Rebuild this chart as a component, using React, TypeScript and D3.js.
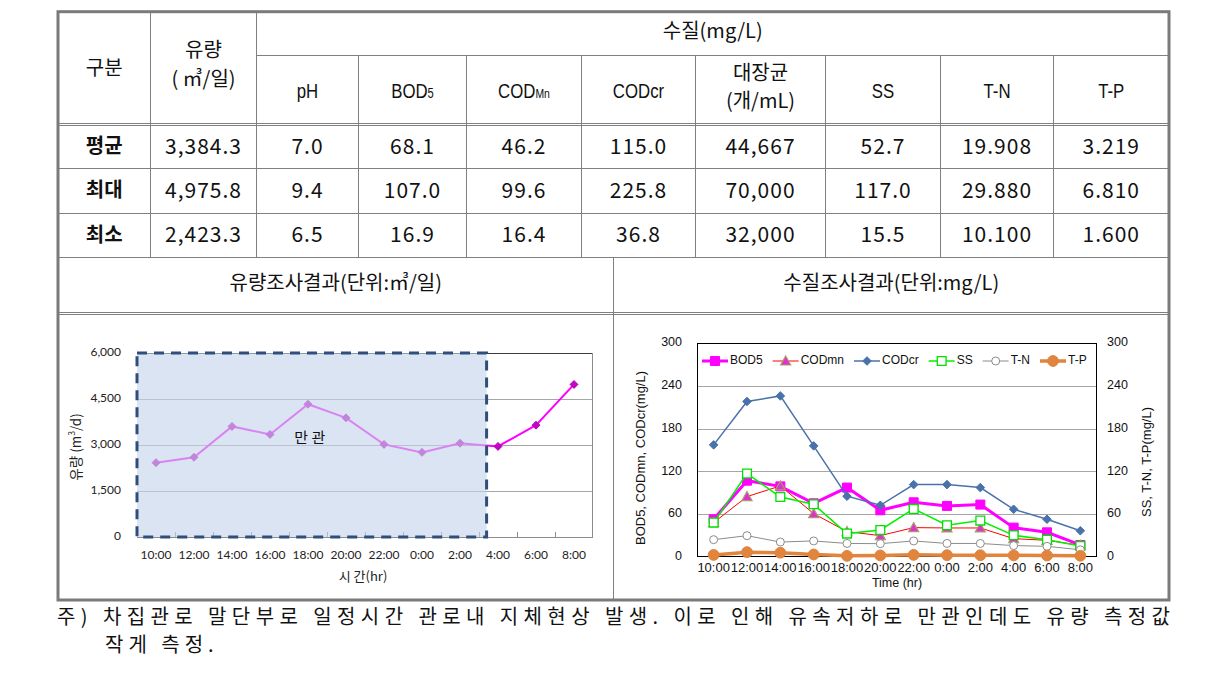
import React from 'react';
import * as d3 from 'd3';

// ---------- DATA ----------
const times = ['10:00', '12:00', '14:00', '16:00', '18:00', '20:00', '22:00', '0:00', '2:00', '4:00', '6:00', '8:00'];
const flow = [2423.3, 2600, 3605, 3345, 4330, 3885, 3020, 2760, 3060, 2955, 3648, 4975.8];
const bod5 = [52.9, 107.0, 99.0, 75.3, 97.3, 65.5, 76.7, 71.6, 73.5, 41.2, 34.6, 16.9];
const codmn = [48.2, 84.7, 99.6, 60.8, 35.6, 30.0, 41.2, 40.7, 40.7, 25.7, 23.4, 16.4];
const codcr = [157.2, 218.0, 225.8, 155.8, 85.2, 72.5, 101.5, 101.5, 97.3, 66.9, 52.9, 36.8];
const ss = [48.2, 117.0, 84.2, 73.9, 32.8, 37.9, 67.4, 44.5, 51.0, 30.4, 24.3, 15.5];
const tn = [24.3, 29.88, 21.0, 22.5, 19.0, 18.7, 22.5, 19.0, 19.0, 16.0, 15.0, 10.1];
const tp = [2.9, 6.81, 6.0, 3.5, 1.6, 2.2, 3.0, 2.6, 2.5, 2.3, 2.1, 1.7];
const flowTicks = [0, 1500, 3000, 4500, 6000];
const wqTicks = [0, 60, 120, 180, 240, 300];
const fullPipeLast = '2:00';

const rowLabels = ['평균', '최대', '최소'];
const flowStats = ['3,384.3', '4,975.8', '2,423.3'];
const phStats = ['7.0', '9.4', '6.5'];
const bodStats = ['68.1', '107.0', '16.9'];
const codmnStats = ['46.2', '99.6', '16.4'];
const codcrStats = ['115.0', '225.8', '36.8'];
const ecoliStats = ['44,667', '70,000', '32,000'];
const ssStats = ['52.7', '117.0', '15.5'];
const tnStats = ['19.908', '29.880', '10.100'];
const tpStats = ['3.219', '6.810', '1.600'];

const footLine1 = '주) 차집관로 말단부로 일정시간 관로내 지체현상 발생. 이로 인해 유속저하로 만관인데도 유량 측정값';
const footLine2 = '작게 측정.';

// ---------- STYLE / LAYOUT ----------
const KR = "'Noto Sans CJK KR', 'Noto Sans', sans-serif";
const ARIAL = "'Liberation Sans', Arial, sans-serif";
const CAL = "Lato, 'Open Sans', sans-serif";
const LINE = '#808080';

const colX = [58, 150.5, 256.5, 358.5, 466.5, 581.5, 695.5, 825.5, 940.5, 1053.5, 1169];
const rowY = { top: 11.7, h1: 55.5, h2a: 123.5, h2b: 125.5, r1: 168.5, r2: 213.5, r3: 257.5, t1: 312.5, t2: 314.5, bottom: 600 };

let _ctx: CanvasRenderingContext2D | null = null;
function measure(t: string, font: string) {
  if (!_ctx) _ctx = document.createElement('canvas').getContext('2d');
  if (!_ctx) return t.length * 7;
  _ctx.font = font;
  return _ctx.measureText(t).width;
}

type Shape = 'square' | 'triangle' | 'diamond' | 'circle';
function markerPath(shape: Shape, cx: number, cy: number, r: number) {
  if (shape === 'square') return `M${cx - r},${cy - r}h${2 * r}v${2 * r}h${-2 * r}Z`;
  if (shape === 'diamond') return `M${cx},${cy - r}L${cx + r},${cy}L${cx},${cy + r}L${cx - r},${cy}Z`;
  if (shape === 'triangle') return `M${cx},${cy - r}L${cx + r},${cy + r * 0.8}L${cx - r},${cy + r * 0.8}Z`;
  return `M${cx - r},${cy}a${r},${r} 0 1,0 ${2 * r},0a${r},${r} 0 1,0 ${-2 * r},0Z`;
}

interface Series {
  name: string; values: number[]; color: string; width: number; shape: Shape; r: number;
  fill: string; stroke: string; sw: number; secondary: boolean;
}

const series: Series[] = [
  { name: 'BOD5', values: bod5, color: '#FF00FF', width: 3, shape: 'square', r: 4.5, fill: '#FF00FF', stroke: '#FF00FF', sw: 1, secondary: false },
  { name: 'CODmn', values: codmn, color: '#FF0000', width: 1, shape: 'triangle', r: 5, fill: '#E030D0', stroke: '#A89C6A', sw: 1.2, secondary: false },
  { name: 'CODcr', values: codcr, color: '#4A72AA', width: 1.5, shape: 'diamond', r: 4.3, fill: '#4A72AA', stroke: '#4A72AA', sw: 1, secondary: false },
  { name: 'SS', values: ss, color: '#00F000', width: 1.5, shape: 'square', r: 4.4, fill: '#FFFFFF', stroke: '#00E000', sw: 1.3, secondary: true },
  { name: 'T-N', values: tn, color: '#8C8C8C', width: 1, shape: 'circle', r: 4, fill: '#FFFFFF', stroke: '#8C8C8C', sw: 1, secondary: true },
  { name: 'T-P', values: tp, color: '#E0843E', width: 3.5, shape: 'circle', r: 5.4, fill: '#E0843E', stroke: '#E0843E', sw: 1, secondary: true },
];

function FlowChart() {
  const left = 137, right = 593, top = 353, bottom = 537;
  const x = d3.scaleBand<string>().domain(times).range([left, right]);
  const y = d3.scaleLinear().domain([0, 6000]).range([bottom, top]);
  const cx = (t: string) => (x(t) as number) + x.bandwidth() / 2;
  const line = d3.line<number>().x((_, i) => cx(times[i])).y((d) => y(d));
  const boxRight = cx(fullPipeLast) + x.bandwidth() * 0.7;
  const fmt = d3.format(',');
  return (
    <g>
      {flowTicks.filter((t) => t > 0 && t < 6000).map((t) => (
        <line key={t} x1={left} x2={right} y1={Math.round(y(t)) + 0.5} y2={Math.round(y(t)) + 0.5} stroke="#A6A6A6" strokeWidth={1} />
      ))}
      <line x1={left} x2={right} y1={top + 0.5} y2={top + 0.5} stroke="#3A3A3A" strokeWidth={1} />
      <line x1={right - 0.5} x2={right - 0.5} y1={top} y2={bottom} stroke="#8C8C8C" strokeWidth={1} />
      <line x1={left} x2={right} y1={bottom + 0.5} y2={bottom + 0.5} stroke="#8C8C8C" strokeWidth={1} />
      {times.slice(1).map((t) => (
        <line key={t} x1={(x(t) as number) + 0.5} x2={(x(t) as number) + 0.5} y1={bottom - 5} y2={bottom} stroke="#8C8C8C" strokeWidth={1} />
      ))}
      <line x1={right - 0.5} x2={right - 0.5} y1={bottom - 5} y2={bottom} stroke="#8C8C8C" strokeWidth={1} />
      <path d={line(flow) || ''} fill="none" stroke="#FF00FF" strokeWidth={2} />
      {flow.map((v, i) => (
        <path key={i} d={markerPath('diamond', cx(times[i]), y(v), 4)} fill="#C800C8" stroke="#A000A0" strokeWidth={0.8} />
      ))}
      <rect x={left} y={top} width={boxRight - left} height={bottom - top} fill="rgb(196,212,236)" fillOpacity={0.62} />
      <rect x={left} y={top} width={boxRight - left} height={bottom - top} fill="none" stroke="#2F4E7C" strokeWidth={3} strokeDasharray="10 7" />
      <text x={(left + boxRight) / 2 - 2} y={y(3200)} fontFamily={KR} fontSize={15} textAnchor="middle" dominantBaseline="middle" fill="#111">만 관</text>
      {flowTicks.map((t) => (
        <text key={t} x={121} y={y(t)} fontFamily={CAL} fontSize={12} textAnchor="end" dominantBaseline="middle" fill="#222">{fmt(t)}</text>
      ))}
      {times.map((t) => (
        <text key={t} x={cx(t)} y={556} fontFamily={CAL} fontSize={12} textAnchor="middle" dominantBaseline="middle" fill="#222">{t}</text>
      ))}
      <text x={(left + right) / 2 - 2} y={577} fontFamily={KR} fontSize={13} textAnchor="middle" dominantBaseline="middle" fill="#222">시 간(hr)</text>
      <text transform={`translate(77,${(top + bottom) / 2 + 2}) rotate(-90)`} fontFamily={KR} fontSize={13.5} textAnchor="middle" dominantBaseline="middle" fill="#222">유량 (m<tspan fontSize={8.5} dy={-4}>3</tspan><tspan dy={4}>/d)</tspan></text>
    </g>
  );
}

function QualityChart() {
  const left = 697, right = 1097, top = 343, bottom = 557;
  const x = d3.scaleBand<string>().domain(times).range([left, right]);
  const y = d3.scaleLinear().domain([0, 300]).range([bottom, top]);
  const y2 = d3.scaleLinear().domain([0, 300]).range([bottom, top]);
  const cx = (t: string) => (x(t) as number) + x.bandwidth() / 2;
  const legFont = `12px ${ARIAL}`;
  let lx = 702;
  const legend = series.map((s) => {
    const item = { s, x: lx };
    lx += 29 + measure(s.name, legFont) + 9;
    return item;
  });
  return (
    <g>
      {wqTicks.filter((t) => t > 0 && t < 300).map((t) => (
        <line key={t} x1={left} x2={right} y1={Math.round(y(t)) + 0.5} y2={Math.round(y(t)) + 0.5} stroke="#A6A6A6" strokeWidth={1} />
      ))}
      <rect x={left + 0.5} y={top + 0.5} width={right - left - 1} height={bottom - top - 1} fill="none" stroke="#000" strokeWidth={1} />
      {series.map((s) => {
        const sc = s.secondary ? y2 : y;
        const ln = d3.line<number>().x((_, i) => cx(times[i])).y((d) => sc(d));
        return (
          <g key={s.name}>
            <path d={ln(s.values) || ''} fill="none" stroke={s.color} strokeWidth={s.width} />
            {s.values.map((v, i) => (
              <path key={i} d={markerPath(s.shape, cx(times[i]), sc(v), s.r)} fill={s.fill} stroke={s.stroke} strokeWidth={s.sw} />
            ))}
          </g>
        );
      })}
      {legend.map(({ s, x: lx0 }) => (
        <g key={s.name}>
          <line x1={lx0} x2={lx0 + 26} y1={361} y2={361} stroke={s.color} strokeWidth={s.width} />
          <path d={markerPath(s.shape, lx0 + 13, 361, s.r)} fill={s.fill} stroke={s.stroke} strokeWidth={s.sw} />
          <text x={lx0 + 28} y={361} fontFamily={ARIAL} fontSize={12} dominantBaseline="middle" fill="#111">{s.name}</text>
        </g>
      ))}
      {wqTicks.map((t) => (
        <g key={t}>
          <text x={682} y={y(t)} fontFamily={ARIAL} fontSize={12.5} textAnchor="end" dominantBaseline="middle" fill="#111">{t}</text>
          <text x={1107} y={y2(t)} fontFamily={ARIAL} fontSize={12.5} textAnchor="start" dominantBaseline="middle" fill="#111">{t}</text>
        </g>
      ))}
      {times.map((t) => (
        <text key={t} x={cx(t)} y={569} fontFamily={ARIAL} fontSize={13} textAnchor="middle" dominantBaseline="middle" fill="#111">{t}</text>
      ))}
      <text x={(left + right) / 2} y={584} fontFamily={ARIAL} fontSize={12.5} textAnchor="middle" dominantBaseline="middle" fill="#111">Time (hr)</text>
      <text transform={`translate(642,458) rotate(-90)`} fontFamily={ARIAL} fontSize={13} textAnchor="middle" dominantBaseline="middle" fill="#111">BOD5, CODmn, CODcr(mg/L)</text>
      <text transform={`translate(1148,462) rotate(-90)`} fontFamily={ARIAL} fontSize={13} textAnchor="middle" dominantBaseline="middle" fill="#111">SS, T-N, T-P(mg/L)</text>
    </g>
  );
}

function Narrow({ x, y, children }: { x: number; y: number; children: any }) {
  return (
    <g transform={`translate(${x},${y}) scale(0.8,1)`}>
      <text x={0} y={0} fontFamily={ARIAL} fontSize={21} textAnchor="middle" dominantBaseline="middle" fill="#111">{children}</text>
    </g>
  );
}

function Table() {
  const statCols = [flowStats, phStats, bodStats, codmnStats, codcrStats, ecoliStats, ssStats, tnStats, tpStats];
  const rowsTop = [rowY.h2b, rowY.r1, rowY.r2];
  const rowsBot = [rowY.r1, rowY.r2, rowY.r3];
  const mid = (i: number) => (colX[i] + colX[i + 1]) / 2;
  const hdrY = (rowY.h1 + rowY.h2a) / 2 + 3;
  const T = (p: any) => <text dominantBaseline="middle" textAnchor="middle" fill="#111" {...p} />;
  return (
    <g>
      <line x1={colX[2]} x2={colX[10]} y1={rowY.h1} y2={rowY.h1} stroke={LINE} />
      {[rowY.h2a, rowY.h2b, rowY.r1, rowY.r2, rowY.r3, rowY.t1, rowY.t2].map((yy, i) => (
        <line key={i} x1={colX[0]} x2={colX[10]} y1={yy} y2={yy} stroke={LINE} />
      ))}
      {[1, 2].map((i) => (
        <line key={i} x1={colX[i]} x2={colX[i]} y1={rowY.top} y2={rowY.r3} stroke={LINE} />
      ))}
      {[3, 4, 5, 6, 7, 8, 9].map((i) => (
        <line key={i} x1={colX[i]} x2={colX[i]} y1={rowY.h1} y2={rowY.r3} stroke={LINE} />
      ))}
      <line x1={613.5} x2={613.5} y1={rowY.r3} y2={rowY.bottom} stroke={LINE} />
      <rect x={58} y={rowY.top} width={1111} height={rowY.bottom - rowY.top} fill="none" stroke="#7A7A7A" strokeWidth={3} />

      <T x={mid(0)} y={70} fontFamily={KR} fontSize={20}>구분</T>
      <T x={mid(1)} y={52} fontFamily={KR} fontSize={20}>유량</T>
      <T x={mid(1)} y={81} fontFamily={KR} fontSize={20}>( ㎥/일)</T>
      <T x={(colX[2] + colX[10]) / 2} y={33} fontFamily={KR} fontSize={20}>수질(mg/L)</T>
      <Narrow x={mid(2)} y={hdrY}>pH</Narrow>
      <Narrow x={mid(3)} y={hdrY}>BOD<tspan fontSize={14} dy={2}>5</tspan></Narrow>
      <Narrow x={mid(4)} y={hdrY}>COD<tspan fontSize={13} dy={2}>Mn</tspan></Narrow>
      <Narrow x={mid(5)} y={hdrY}>CODcr</Narrow>
      <T x={mid(6)} y={75} fontFamily={KR} fontSize={20}>대장균</T>
      <T x={mid(6)} y={103} fontFamily={KR} fontSize={20}>(개/mL)</T>
      <Narrow x={mid(7)} y={hdrY}>SS</Narrow>
      <Narrow x={mid(8)} y={hdrY}>T-N</Narrow>
      <Narrow x={mid(9)} y={hdrY}>T-P</Narrow>

      {rowLabels.map((r, ri) => {
        const yy = (rowsTop[ri] + rowsBot[ri]) / 2 + 1;
        return (
          <g key={r}>
            <T x={mid(0)} y={yy} fontFamily={KR} fontSize={20} fontWeight={700}>{r}</T>
            {statCols.map((c, ci) => (
              <T key={ci} x={mid(ci + 1)} y={yy} fontFamily={KR} fontSize={21} letterSpacing={1}>{c[ri]}</T>
            ))}
          </g>
        );
      })}

      <T x={(colX[0] + 613.5) / 2} y={285} fontFamily={KR} fontSize={20}>유량조사결과(단위:㎥/일)</T>
      <T x={(613.5 + colX[10]) / 2} y={285} fontFamily={KR} fontSize={20}>수질조사결과(단위:mg/L)</T>
    </g>
  );
}

export default function App() {
  return (
    <svg width={1219} height={675} style={{ position: 'absolute', left: 0, top: 0, background: '#fff' }}>
      <rect x={0} y={0} width={1219} height={675} fill="#fff" />
      <Table />
      <FlowChart />
      <QualityChart />
      <text x={57} y={624} fontFamily={KR} fontSize={20} textLength={1113} lengthAdjust="spacing" fill="#111">{footLine1}</text>
      <text x={105} y={652} fontFamily={KR} fontSize={20} letterSpacing={5} fill="#111">{footLine2}</text>
    </svg>
  );
}
